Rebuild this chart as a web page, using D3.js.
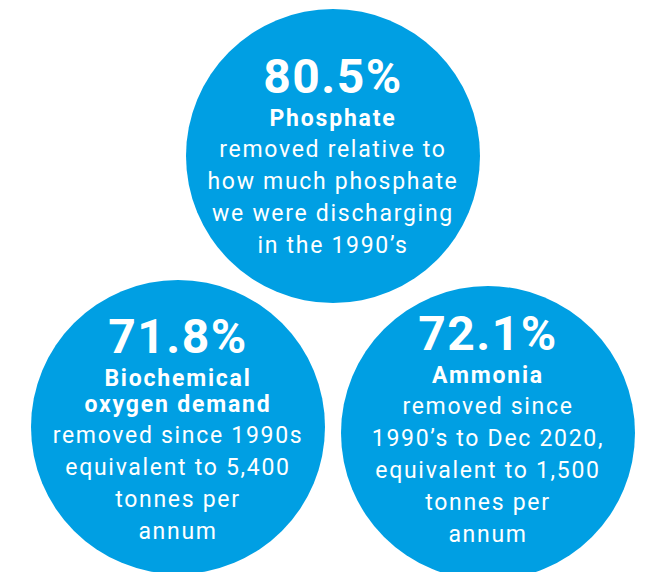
<!DOCTYPE html>
<html>
<head>
<meta charset="utf-8">
<script src="https://cdn.jsdelivr.net/npm/d3@7"></script>
<style>
  html, body { margin: 0; padding: 0; background: #fff; }
  svg { display: block; }
</style>
</head>
<body>
<div id="chart"></div>
<script>
// values shown in each bubble
const values = [80.5, 71.8, 72.1];
const titles = [
  ['Phosphate'],
  ['Biochemical', 'oxygen demand'],
  ['Ammonia']
];
const descriptions = [
  ['removed relative to', 'how much phosphate', 'we were discharging', 'in the 1990\u2019s'],
  ['removed since 1990s', 'equivalent to 5,400', 'tonnes per', 'annum'],
  ['removed since', '1990\u2019s to Dec 2020,', 'equivalent to 1,500', 'tonnes per', 'annum']
];

const config = {
  width: 659,
  height: 572,
  radius: 147,
  color: '#009fe3',
  font: 'Roboto, "DejaVu Sans", sans-serif'
};

// bubble centres (layout only)
const centres = [
  { x: 333, y: 156 },
  { x: 178, y: 427 },
  { x: 488, y: 433 }
];

const svg = d3.select('#chart')
  .append('svg')
  .attr('width', config.width)
  .attr('height', config.height);

const fmt = d3.format('.1f');

const bubbles = values.map((v, i) => ({
  value: v,
  title: titles[i],
  desc: descriptions[i],
  cx: centres[i].x,
  cy: centres[i].y
}));

const $g = svg.selectAll('g.bubble')
  .data(bubbles)
  .enter()
  .append('g')
  .attr('class', 'bubble')
  .attr('transform', d => `translate(${d.cx},${d.cy})`);

$g.append('circle')
  .attr('r', config.radius)
  .attr('fill', config.color);

$g.each(function (d, i) {
  const $b = d3.select(this);
  // first baseline relative to centre
  const top = [-63, -74, -83][i];

  $b.append('text')
    .attr('text-anchor', 'middle')
    .attr('y', top)
    .attr('fill', '#fff')
    .attr('font-family', config.font)
    .attr('font-weight', 700)
    .attr('font-size', 48)
    .attr('letter-spacing', 1.5)
    .text(fmt(d.value) + '%');

  let y = top + 33;
  d.title.forEach((t, k) => {
    $b.append('text')
      .attr('text-anchor', 'middle')
      .attr('y', y)
      .attr('fill', '#fff')
      .attr('font-family', config.font)
      .attr('font-weight', 700)
      .attr('font-size', 23)
      .attr('letter-spacing', 1.8)
      .text(t);
    y += 26;
  });

  y += 5;
  d.desc.forEach(t => {
    $b.append('text')
      .attr('text-anchor', 'middle')
      .attr('y', y)
      .attr('fill', '#fff')
      .attr('font-family', config.font)
      .attr('font-weight', 400)
      .attr('font-size', 23)
      .attr('letter-spacing', 1.7)
      .text(t);
    y += 32;
  });
});
</script>
</body>
</html>
